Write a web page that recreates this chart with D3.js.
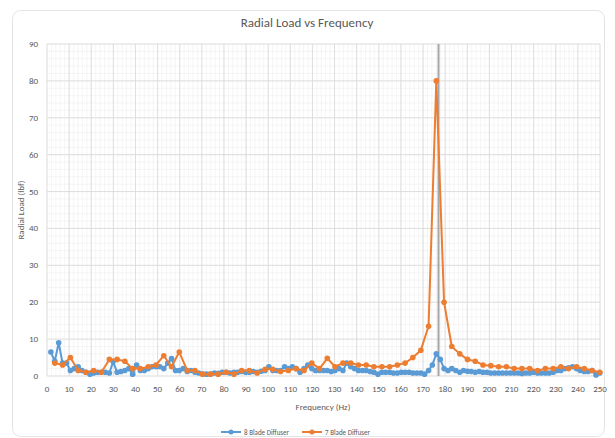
<!DOCTYPE html>
<html>
<head>
<meta charset="utf-8">
<script src="https://cdn.jsdelivr.net/npm/d3@7"></script>
<style>
  body { margin: 0; background: #fff; }
  text { font-family: Calibri, "Liberation Sans", "DejaVu Sans", sans-serif; fill: #595959; }
</style>
</head>
<body>
<svg id="chart" width="615" height="438"></svg>
<script>
// 8 blade diffuser (blue) - frequency and load
const freq8 = [1.76, 3.52, 5.28, 7.04, 8.8, 10.56, 12.3, 14.1, 15.8, 17.6, 19.4, 21.1, 22.9, 24.6, 26.4, 28.2, 29.9, 31.7, 33.4, 35.2,
  37.0, 38.7, 40.5, 42.2, 44.0, 45.8, 47.5, 49.3, 51.0, 52.8, 54.6, 56.3, 58.1, 59.8, 61.6, 63.4, 65.1, 66.9, 68.6, 70.4,
  72.2, 73.9, 75.7, 77.4, 79.2, 81.0, 82.7, 84.5, 86.2, 88.0, 89.8, 91.5, 93.3, 95.0, 96.8, 98.6, 100.3, 102.1, 103.8, 105.6,
  107.4, 109.1, 110.9, 112.6, 114.4, 116.2, 117.9, 119.7, 121.4, 123.2, 125.0, 126.7, 128.5, 130.2, 132.0, 133.8, 135.5, 137.3, 139.0, 140.8,
  142.6, 144.3, 146.1, 147.8, 149.6, 151.4, 153.1, 154.9, 156.6, 158.4, 160.2, 161.9, 163.7, 165.4, 167.2, 169.0, 170.7, 172.5, 174.2, 176.0,
  177.8, 179.5, 181.3, 183.0, 184.8, 186.6, 188.3, 190.1, 191.8, 193.6, 195.4, 197.1, 198.9, 200.6, 202.4, 204.2, 205.9, 207.7, 209.4, 211.2,
  213.0, 214.7, 216.5, 218.2, 220.0, 221.8, 223.5, 225.3, 227.0, 228.8, 230.6, 232.3, 234.1, 235.8, 237.6, 239.4, 241.1, 242.9, 244.6, 246.4,
  248.2, 249.9];
const load8 = [6.5, 4, 9, 3.5, 3.5, 1.5, 2, 2.5, 1.5, 1, 0.5, 0.8, 1, 1, 1, 0.8, 3.9, 1, 1.2, 1.5,
  2, 0.5, 3, 1.5, 1.5, 2, 2.5, 2.5, 2.5, 2, 3.5, 4.7, 1.5, 1.5, 2, 1.2, 1.5, 1, 0.8, 0.5,
  0.5, 0.5, 0.8, 0.7, 1, 1, 0.8, 1, 1, 1.2, 1, 1, 1.2, 1, 1.3, 1.5, 2.5, 1.5, 1.5, 1.5,
  2.5, 2, 2.5, 2, 1, 2, 3, 2, 1.5, 1.5, 1.5, 1.5, 1.2, 1.5, 2, 1.5, 3.5, 2.5, 2, 1.5,
  1.5, 1.5, 1.2, 1, 0.5, 1, 1, 1, 0.8, 0.8, 1, 1, 1, 0.8, 0.8, 0.8, 0.5, 1.5, 3, 6,
  4.5, 2, 1.5, 2, 1.5, 1, 1.5, 1.3, 1.2, 1, 1.2, 1, 1, 0.8, 0.8, 0.8, 0.8, 0.8, 0.8, 0.8,
  0.8, 0.7, 0.8, 0.8, 1, 0.8, 0.8, 0.8, 0.8, 1, 1.5, 1.5, 2, 2.2, 2.5, 2, 1.5, 1.2, 1.2, 1.5,
  0.3, 0.8];

// 7 blade diffuser (orange)
const freq7 = [3.52, 7.04, 10.56, 14.1, 17.6, 21.1, 24.6, 28.2, 31.7, 35.2, 38.7, 42.2, 45.8, 49.3, 52.8, 56.3, 59.8, 63.4, 66.9, 70.4,
  73.9, 77.4, 81.0, 84.5, 88.0, 91.5, 95.0, 98.6, 102.1, 105.6, 109.1, 112.6, 116.2, 119.7, 123.2, 126.7, 130.2, 133.8, 137.3, 140.8,
  144.3, 147.8, 151.4, 154.9, 158.4, 161.9, 165.4, 169.0, 172.5, 176.0, 179.5, 183.0, 186.6, 190.1, 193.6, 197.1, 200.6, 204.2, 207.7, 211.2,
  214.7, 218.2, 221.8, 225.3, 228.8, 232.3, 235.8, 239.4, 242.9, 246.4, 249.9];
const load7 = [3.5, 3, 5, 1.5, 1, 1.5, 1, 4.5, 4.5, 4, 2, 2, 2.5, 3, 5.5, 2.5, 6.5, 1.5, 1.5, 0.5,
  0.5, 0.5, 1, 0.5, 1.5, 1.5, 0.8, 1.8, 1.8, 1.2, 1.5, 2, 1.5, 3.5, 2, 4.8, 2.5, 3.5, 3.5, 3,
  3, 2.5, 2.5, 2.5, 3, 3.5, 5, 7, 13.5, 80, 20, 8, 6, 4.5, 4, 3, 2.8, 2.5, 2.5, 2,
  2, 2, 1.5, 2, 2, 2.5, 2, 2.5, 2, 1.5, 1];

const xTicks = d3.range(0, 251, 10);
const yTicks = d3.range(0, 91, 10);
const markerFreq = 177;

const seriesList = [
  { name: '8 Blade Diffuser', color: '#5b9bd5', xs: freq8, ys: load8 },
  { name: '7 Blade Diffuser', color: '#ed7d31', xs: freq7, ys: load7 }
];

const svg = d3.select('#chart');

// chart area border
svg.append('rect')
  .attr('x', 12.5).attr('y', 10.5)
  .attr('width', 592).attr('height', 426)
  .attr('rx', 8)
  .attr('fill', '#fff')
  .attr('stroke', '#e4e4e4');

const x = d3.scaleLinear().domain([0, 250]).range([47, 600]);
const y = d3.scaleLinear().domain([0, 90]).range([376, 44]);

// minor grid
const g = svg.append('g');
g.selectAll('.vminor').data(d3.range(0, 251, 2)).enter().append('line')
  .attr('x1', d => x(d)).attr('x2', d => x(d))
  .attr('y1', y(0)).attr('y2', y(90))
  .attr('stroke', '#efefef').attr('stroke-width', 0.6);
g.selectAll('.hminor').data(d3.range(0, 91, 2)).enter().append('line')
  .attr('x1', x(0)).attr('x2', x(250))
  .attr('y1', d => y(d)).attr('y2', d => y(d))
  .attr('stroke', '#efefef').attr('stroke-width', 0.6);

// major grid
g.selectAll('.vmajor').data(xTicks).enter().append('line')
  .attr('x1', d => x(d)).attr('x2', d => x(d))
  .attr('y1', y(0)).attr('y2', y(90))
  .attr('stroke', '#d9d9d9').attr('stroke-width', 0.8);
g.selectAll('.hmajor').data(yTicks).enter().append('line')
  .attr('x1', x(0)).attr('x2', x(250))
  .attr('y1', d => y(d)).attr('y2', d => y(d))
  .attr('stroke', '#d9d9d9').attr('stroke-width', 0.8);

// axis tick labels
svg.append('g').selectAll('text').data(xTicks).enter().append('text')
  .attr('x', d => x(d)).attr('y', 392)
  .attr('text-anchor', 'middle')
  .attr('font-size', 9)
  .text(d => d);
svg.append('g').selectAll('text').data(yTicks).enter().append('text')
  .attr('x', 38).attr('y', d => y(d) + 3)
  .attr('text-anchor', 'end')
  .attr('font-size', 9)
  .text(d => d);

// vertical marker line
svg.append('line')
  .attr('x1', x(markerFreq)).attr('x2', x(markerFreq))
  .attr('y1', y(0)).attr('y2', y(90))
  .attr('stroke', '#a6a6a6').attr('stroke-width', 2);

// series
const line = d3.line().x(d => x(d[0])).y(d => y(d[1]));
seriesList.forEach(s => {
  const pts = s.xs.map((v, i) => [v, s.ys[i]]);
  svg.append('path')
    .datum(pts)
    .attr('d', line)
    .attr('fill', 'none')
    .attr('stroke', s.color)
    .attr('stroke-width', 2)
    .attr('stroke-linejoin', 'round');
  svg.append('g').selectAll('circle').data(pts).enter().append('circle')
    .attr('cx', d => x(d[0])).attr('cy', d => y(d[1]))
    .attr('r', 2.8)
    .attr('fill', s.color);
});

// titles
svg.append('text')
  .attr('x', 307).attr('y', 27)
  .attr('text-anchor', 'middle')
  .attr('font-size', 13)
  .text('Radial Load vs Frequency');

svg.append('text')
  .attr('x', 323).attr('y', 410)
  .attr('text-anchor', 'middle')
  .attr('font-size', 9)
  .text('Frequency (Hz)');

svg.append('text')
  .attr('transform', 'translate(24,210) rotate(-90)')
  .attr('text-anchor', 'middle')
  .attr('font-size', 9)
  .text('Radial Load (lbf)');

// legend
const legend = svg.append('g');
const legendX = [221, 302];
seriesList.forEach((s, i) => {
  const lg = legend.append('g').attr('transform', `translate(${legendX[i]},432)`);
  lg.append('line').attr('x1', 0).attr('x2', 20).attr('y1', 0).attr('y2', 0)
    .attr('stroke', s.color).attr('stroke-width', 2);
  lg.append('circle').attr('cx', 10).attr('cy', 0).attr('r', 2.5).attr('fill', s.color);
  lg.append('text').attr('x', 23).attr('y', 2.5).attr('font-size', 7).text(s.name);
});
</script>
</body>
</html>
